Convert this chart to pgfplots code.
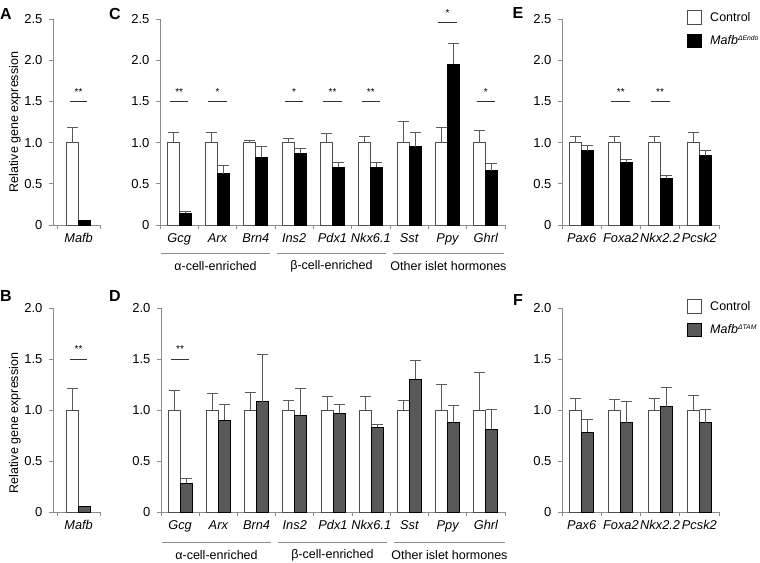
\documentclass[border=0pt]{standalone}
\usepackage{fontspec}
\setmainfont{Liberation Sans}
\usepackage{pgfplots}
\pgfplotsset{compat=1.18}
\usepackage{pgfplotstable}

\definecolor{axgray}{HTML}{8C8C8C}
\definecolor{errgray}{HTML}{5A5A5A}
\definecolor{ctrledge}{HTML}{4D4D4D}
\definecolor{tamfill}{HTML}{595959}

\newcommand{\fs}{\fontsize{12.5}{15}\selectfont}
\newcommand{\fsy}{\fontsize{13}{15}\selectfont}
\newcommand{\fsi}{\fontsize{12.8}{15}\selectfont\itshape}
\newcommand{\fst}{\fontsize{10}{12}\selectfont}
\newcommand{\supx}[1]{\raisebox{4.5pt}{\fontsize{6.8}{8}\selectfont #1}}

% panel C: x, control, err, Mafb-dEndo, err
\pgfplotstableread{
x c ce m me
0 1 0.12 0.14 0.02
1 1 0.12 0.62 0.10
2 1 0.03 0.82 0.13
3 1 0.05 0.87 0.06
4 1 0.11 0.70 0.06
5 1 0.08 0.70 0.06
6 1 0.26 0.95 0.17
7 1 0.18 1.95 0.25
8 1 0.145 0.66 0.09
}\tabC
\pgfplotstableread{
x c ce m me
0 1 0.07 0.90 0.07
1 1 0.07 0.76 0.04
2 1 0.08 0.57 0.03
3 1 0.125 0.84 0.06
}\tabE
\pgfplotstableread{
x c ce m me
0 1 0.19 0.28 0.05
1 1 0.16 0.90 0.15
2 1 0.17 1.08 0.46
3 1 0.09 0.95 0.26
4 1 0.13 0.97 0.08
5 1 0.13 0.83 0.03
6 1 0.09 1.30 0.19
7 1 0.25 0.88 0.16
8 1 0.37 0.81 0.20
}\tabD
\pgfplotstableread{
x c ce m me
0 1 0.11 0.78 0.13
1 1 0.10 0.875 0.205
2 1 0.11 1.03 0.19
3 1 0.14 0.875 0.135
}\tabF

\pgfplotsset{
  panel/.style={
    scale only axis, axis lines=left,
    axis line style={-, draw=axgray, line width=0.9pt},
    ymin=0, tick align=outside, major tick length=4pt,
    tick style={draw=axgray, line width=0.9pt},
    clip=false, ybar, bar width=12pt,
    xticklabels={},
    extra x tick style={major tick length=0pt,
      tick label style={font=\fsi, yshift=-5pt}},
    yticklabel style={font=\fsy, xshift=-3pt},
  },
  errs/.style={error bars/.cd, y dir=plus, y explicit,
    error bar style={draw=errgray, line width=0.9pt},
    error mark options={rotate=90, draw=errgray, line width=0.9pt, mark size=5.5pt}},
  boxleg/.style={legend image code/.code={\draw[##1] (0pt,-6.5pt) rectangle (14pt,7pt);
    \path (22pt,0pt);}},
  ctrl/.style={bar shift=-6pt, fill=white, draw=ctrledge, line width=0.9pt, boxleg},
  mut/.style={bar shift=6pt, fill=black, draw=black, line width=0.9pt, boxleg},
  tam/.style={bar shift=6pt, fill=tamfill, draw=black, line width=0.9pt, boxleg},
  sig/.style={forget plot, sharp plot, draw=black!80, line width=0.8pt, mark=none},
  top/.style={at={(#1,337pt)}, height=206pt, ymax=2.5, ytick={0,0.5,1,1.5,2,2.5},
    yticklabels={0,0.5,1.0,1.5,2.0,2.5}},
  bot/.style={at={(#1,50pt)}, height=204pt, ymax=2.0, ytick={0,0.5,1,1.5,2},
    yticklabels={0,0.5,1.0,1.5,2.0}},
  nine/.style={xmin=-0.5, xmax=8.5, xtick={-0.5,0.5,...,8.5},
    extra x ticks={0,1,2,3,4,5,6,7,8},
    extra x tick labels={Gcg,Arx,Brn4,Ins2,Pdx1,Nkx6.1,Sst,Ppy,Ghrl}},
  four/.style={xmin=-0.5, xmax=3.5, xtick={-0.5,0.5,1.5,2.5,3.5},
    extra x ticks={0,1,2,3},
    extra x tick labels={Pax6,Foxa2,Nkx2.2,Pcsk2}},
  one/.style={xmin=-0.6, xmax=0.5, xtick={-0.5,0.5},
    extra x ticks={0}, extra x tick labels={Mafb}},
  leg/.style={legend style={at={(axis description cs:0.797,1.044)}, anchor=north west,
    draw=none, fill=none, inner sep=0pt, font=\fs, row sep=9pt,
    nodes={inner xsep=0pt, inner ysep=0pt}},
    legend cell align=left},
}

\begin{document}
\begin{tikzpicture}
\useasboundingbox (0pt,0pt) rectangle (760pt,562pt);

% ---------- A ----------
\begin{axis}[panel, top=53pt, anchor=south west, width=47pt, one]
\addplot[ctrl, errs] coordinates {(0,1) +- (0,0.185)};
\addplot[mut] coordinates {(0,0.05)};
\addplot[sig] coordinates {(-0.2,1.5) (0.2,1.5)};
\node[font=\fst, anchor=south] at (axis cs:0,1.53) {**};
\end{axis}

% ---------- C ----------
\begin{axis}[panel, top=160pt, anchor=south west, width=345pt, nine]
\addplot[ctrl, errs] table[x=x, y=c, y error=ce] {\tabC};
\addplot[mut, errs] table[x=x, y=m, y error=me] {\tabC};
\addplot[sig] coordinates {(-0.24,1.5) (0.24,1.5)};
\addplot[sig] coordinates {(0.76,1.5) (1.24,1.5)};
\addplot[sig] coordinates {(2.76,1.5) (3.24,1.5)};
\addplot[sig] coordinates {(3.76,1.5) (4.24,1.5)};
\addplot[sig] coordinates {(4.76,1.5) (5.24,1.5)};
\addplot[sig] coordinates {(6.76,2.46) (7.24,2.46)};
\addplot[sig] coordinates {(7.76,1.5) (8.24,1.5)};
\foreach \p/\s in {0/**,1/*,3/*,4/**,5/**,8/*}
  {\edef\tmp{\noexpand\node[font=\noexpand\fst, anchor=south] at (axis cs:\p,1.53) {\s};}\tmp}
\node[font=\fst, anchor=south] at (axis cs:7,2.49) {*};
\end{axis}

% ---------- E ----------
\begin{axis}[panel, top=562pt, anchor=south west, width=157pt, four, leg]
\addplot[ctrl, errs] table[x=x, y=c, y error=ce] {\tabE};
\addlegendentry{Control}
\addplot[mut, errs] table[x=x, y=m, y error=me] {\tabE};
\addlegendentry{\textit{Mafb\supx{ΔEndo}}}
\addplot[sig] coordinates {(0.76,1.5) (1.24,1.5)};
\addplot[sig] coordinates {(1.76,1.5) (2.24,1.5)};
\node[font=\fst, anchor=south] at (axis cs:1,1.53) {**};
\node[font=\fst, anchor=south] at (axis cs:2,1.53) {**};
\end{axis}

% ---------- B ----------
\begin{axis}[panel, bot=53pt, anchor=south west, width=47pt, one]
\addplot[ctrl, errs] coordinates {(0,1) +- (0,0.21)};
\addplot[tam] coordinates {(0,0.05)};
\addplot[sig] coordinates {(-0.2,1.5) (0.2,1.5)};
\node[font=\fst, anchor=south] at (axis cs:0,1.53) {**};
\end{axis}

% ---------- D ----------
\begin{axis}[panel, bot=161pt, anchor=south west, width=344pt, nine]
\addplot[ctrl, errs] table[x=x, y=c, y error=ce] {\tabD};
\addplot[tam, errs] table[x=x, y=m, y error=me] {\tabD};
\addplot[sig] coordinates {(-0.24,1.5) (0.24,1.5)};
\node[font=\fst, anchor=south] at (axis cs:0,1.53) {**};
\end{axis}

% ---------- F ----------
\begin{axis}[panel, bot=562pt, anchor=south west, width=157pt, four, leg]
\addplot[ctrl, errs] table[x=x, y=c, y error=ce] {\tabF};
\addlegendentry{Control}
\addplot[tam, errs] table[x=x, y=m, y error=me] {\tabF};
\addlegendentry{\textit{Mafb\supx{ΔTAM}}}
\end{axis}

% ---------- group brackets ----------
\begin{scope}[draw=axgray, line width=0.9pt]
\draw (161pt,309pt) -- (270pt,309pt);
\draw (277pt,309pt) -- (386pt,309pt);
\draw (393pt,309pt) -- (504pt,309pt);
\draw (162pt,20pt) -- (271pt,20pt);
\draw (278pt,20pt) -- (387pt,20pt);
\draw (394pt,20pt) -- (505pt,20pt);
\end{scope}
\begin{scope}[font=\fs]
\node at (215.5pt,296pt) {α-cell-enriched};
\node at (331.5pt,296pt) {β-cell-enriched};
\node at (448.5pt,296pt) {Other islet hormones};
\node at (216.5pt,7pt) {α-cell-enriched};
\node at (332.5pt,7pt) {β-cell-enriched};
\node at (449.5pt,7pt) {Other islet hormones};
\node[rotate=90] at (15pt,440pt) {Relative gene expression};
\node[rotate=90] at (15pt,139pt) {Relative gene expression};
\end{scope}
\begin{scope}[font=\fontsize{16}{18}\selectfont\bfseries]
\node at (6pt,548pt) {A};
\node at (115pt,548pt) {C};
\node at (518pt,549pt) {E};
\node at (6pt,266pt) {B};
\node at (115pt,266pt) {D};
\node at (518pt,262pt) {F};
\end{scope}
\end{tikzpicture}
\end{document}
